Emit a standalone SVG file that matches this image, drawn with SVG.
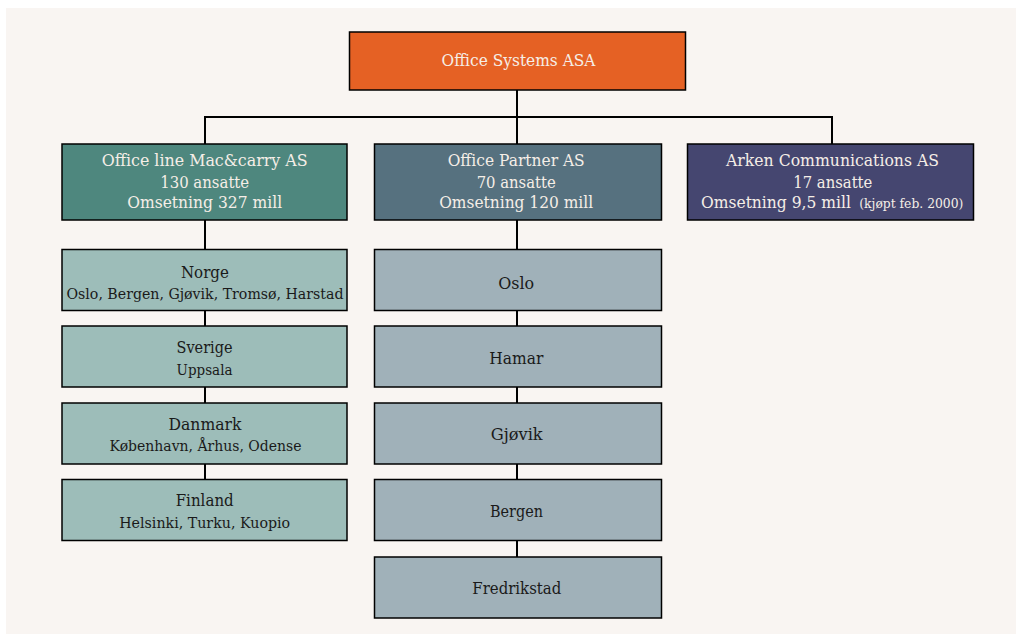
<svg xmlns="http://www.w3.org/2000/svg" width="1016" height="634" viewBox="0 0 1016 634">
<style>
.box{stroke:#000;stroke-width:1.5}
.t{font-family:"DejaVu Serif","Liberation Serif",serif;text-anchor:middle}
.s{font-family:"DejaVu Serif","Liberation Serif",serif;text-anchor:start}
.lt{fill:#f5eee7;font-size:17px}
.dk{fill:#1a1a1a;font-size:17px}
.sm{font-size:14.5px}
.c{fill:none;stroke:#000;stroke-width:2}
</style>
<rect x="0" y="0" width="1016" height="634" fill="#ffffff"/>
<rect x="6" y="8" width="1010" height="626" fill="#f9f5f2"/>
<g id="connectors">
<path class="c" d="M517 90V117M205 117H832M205 116V144M517 116V144M832 116V144"/>
<path class="c" d="M205 220V250M205 310V326M205 387V403M205 464V479"/>
<path class="c" d="M517 220V250M517 310V326M517 387V403M517 464V480M517 541V557"/>
</g>
<g id="office-systems">
<rect class="box" x="349.5" y="32" width="336" height="58" fill="#e56124"/>
<text class="t lt" x="518.5" y="66" textLength="154" lengthAdjust="spacingAndGlyphs">Office Systems ASA</text>
</g>
<g id="macandcarry">
<rect class="box" x="62" y="144" width="285" height="76" fill="#4e877e"/>
<text class="t lt" x="204.7" y="166" textLength="206" lengthAdjust="spacingAndGlyphs">Office line Mac&amp;carry AS</text>
<text class="t lt" x="204.7" y="187.5" textLength="89" lengthAdjust="spacingAndGlyphs">130 ansatte</text>
<text class="t lt" x="204.7" y="208" textLength="155" lengthAdjust="spacingAndGlyphs">Omsetning 327 mill</text>
</g>
<g id="office-partner">
<rect class="box" x="374.5" y="144" width="287" height="76" fill="#56717f"/>
<text class="t lt" x="516.2" y="166" textLength="137" lengthAdjust="spacingAndGlyphs">Office Partner AS</text>
<text class="t lt" x="516.2" y="187.5" textLength="79" lengthAdjust="spacingAndGlyphs">70 ansatte</text>
<text class="t lt" x="516.2" y="208" textLength="154" lengthAdjust="spacingAndGlyphs">Omsetning 120 mill</text>
</g>
<g id="arken">
<rect class="box" x="687.5" y="144" width="286" height="76" fill="#454670"/>
<text class="t lt" x="832.5" y="166" textLength="213" lengthAdjust="spacingAndGlyphs">Arken Communications AS</text>
<text class="t lt" x="832.8" y="187.5" textLength="79" lengthAdjust="spacingAndGlyphs">17 ansatte</text>
<text class="s lt" x="701" y="208" textLength="150" lengthAdjust="spacingAndGlyphs">Omsetning 9,5 mill</text>
<text class="s lt" x="859.3" y="208" style="font-size:12.5px" textLength="104" lengthAdjust="spacingAndGlyphs">(kjøpt feb. 2000)</text>
</g>
<g id="norge">
<rect class="box" x="62" y="249.5" width="285" height="61" fill="#9dbdb9"/>
<text class="t dk" x="204.9" y="277.5" textLength="48" lengthAdjust="spacingAndGlyphs">Norge</text>
<text class="t dk sm" x="205" y="298.5" textLength="277" lengthAdjust="spacingAndGlyphs">Oslo, Bergen, Gjøvik, Tromsø, Harstad</text>
</g>
<g id="sverige">
<rect class="box" x="62" y="326" width="285" height="61" fill="#9dbdb9"/>
<text class="t dk" x="204.5" y="353" textLength="56" lengthAdjust="spacingAndGlyphs">Sverige</text>
<text class="t dk sm" x="204.5" y="374.5" textLength="56" lengthAdjust="spacingAndGlyphs">Uppsala</text>
</g>
<g id="danmark">
<rect class="box" x="62" y="403" width="285" height="61" fill="#9dbdb9"/>
<text class="t dk" x="205" y="429.5" textLength="73" lengthAdjust="spacingAndGlyphs">Danmark</text>
<text class="t dk sm" x="205.5" y="451" textLength="192" lengthAdjust="spacingAndGlyphs">København, Århus, Odense</text>
</g>
<g id="finland">
<rect class="box" x="62" y="479.5" width="285" height="61" fill="#9dbdb9"/>
<text class="t dk" x="204.7" y="506" textLength="58" lengthAdjust="spacingAndGlyphs">Finland</text>
<text class="t dk sm" x="204.7" y="527.5" textLength="171" lengthAdjust="spacingAndGlyphs">Helsinki, Turku, Kuopio</text>
</g>
<g id="oslo">
<rect class="box" x="374.5" y="249.5" width="287" height="61" fill="#a0b1b9"/>
<text class="t dk" x="516.2" y="288.5" textLength="36" lengthAdjust="spacingAndGlyphs">Oslo</text>
</g>
<g id="hamar">
<rect class="box" x="374.5" y="326" width="287" height="61" fill="#a0b1b9"/>
<text class="t dk" x="516.3" y="364" textLength="54" lengthAdjust="spacingAndGlyphs">Hamar</text>
</g>
<g id="gjovik">
<rect class="box" x="374.5" y="403" width="287" height="61" fill="#a0b1b9"/>
<text class="t dk" x="516.7" y="440" textLength="52" lengthAdjust="spacingAndGlyphs">Gjøvik</text>
</g>
<g id="bergen">
<rect class="box" x="374.5" y="479.5" width="287" height="61" fill="#a0b1b9"/>
<text class="t dk" x="516.5" y="516.5" textLength="53" lengthAdjust="spacingAndGlyphs">Bergen</text>
</g>
<g id="fredrikstad">
<rect class="box" x="374.5" y="557" width="287" height="61" fill="#a0b1b9"/>
<text class="t dk" x="516.8" y="594" textLength="89" lengthAdjust="spacingAndGlyphs">Fredrikstad</text>
</g>
</svg>
